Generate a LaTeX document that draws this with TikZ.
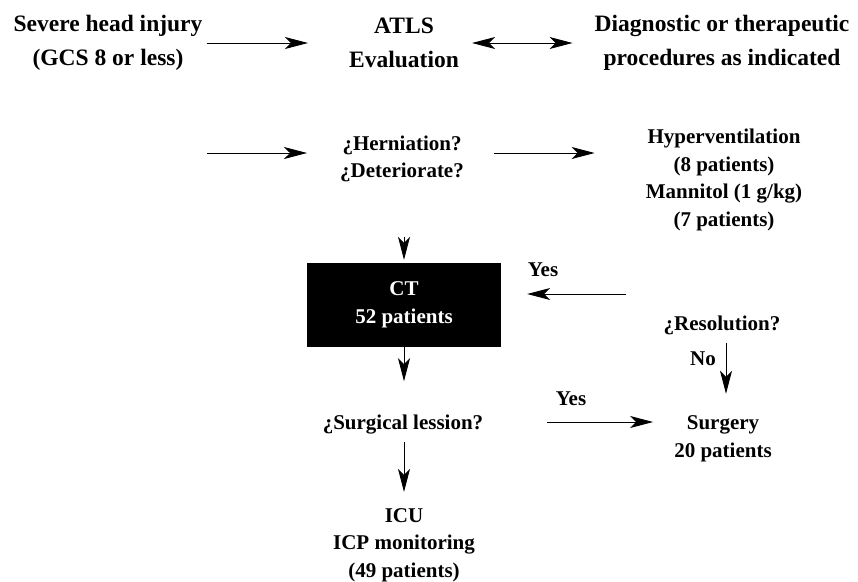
\documentclass[tikz,border=0pt]{standalone}
\usepackage{fontspec}
\setmainfont{Liberation Serif}
\usepackage{tikz}
\usetikzlibrary{arrows.meta,positioning,calc}

\begin{document}
\begin{tikzpicture}[
    x=1pt, y=-1pt,
    >={Stealth[length=23pt, width=12pt, inset=6pt]},
    big/.style={align=center, inner sep=2pt, font=\fontsize{23.5}{34}\selectfont\bfseries},
    txt/.style={align=center, inner sep=2pt, font=\fontsize{21}{27.7}\selectfont\bfseries},
    ctbox/.style={txt, fill=black, text=white, minimum width=194pt, minimum height=84pt, inner sep=0pt},
    arr/.style={->, line width=0.9pt}
]
\useasboundingbox (0,0) rectangle (858,581);

\node[big] (inj) at (108,43) {Severe head injury\\(GCS 8 or less)};
\node[big] (atls) at (404,43) {ATLS\\Evaluation};
\node[big] (diag) at (722,43) {Diagnostic or therapeutic\\procedures as indicated};

\coordinate (src) at (207,153);
\node[txt] (hern) at (402,159) {¿Herniation?\\¿Deteriorate?};
\node[txt] (hyp) at (724,180) {Hyperventilation\\(8 patients)\\Mannitol (1 g/kg)\\(7 patients)};

\node[ctbox] (ct) at (404,305) {CT\\52 patients};
\node[txt] (res) at (722,325) {¿Resolution?};
\node[txt] (les) at (403,425) {¿Surgical lession?};
\node[txt] (surg) at (723,439) {Surgery\\20 patients};
\node[txt] (icu) at (404,545) {ICU\\ICP monitoring\\(49 patients)};

\node[txt] (yes1) at (543,270) {Yes};
\node[txt] (yes2) at (571,399) {Yes};
\node[txt] (no) at (703,359) {No};

\draw[arr, shorten <=2pt, shorten >=39pt] (inj) -- (atls);
\draw[arr, <->, shorten <=11pt, shorten >=20pt] (atls) -- (diag);
\draw[arr, shorten >=31pt] (src) -- (src -| hern.west);
\draw[arr, shorten <=28pt, shorten >=49pt] (src -| hern.east) -- (src -| hyp.west);
\draw[arr, shorten <=52pt, shorten >=3pt] (ct.north |- hern.south) -- (ct.north);
\draw[arr, shorten >=32pt] (ct.south) -- (ct.south |- les.north);
\draw[arr, shorten <=5pt, shorten >=14pt] (les.south -| icu.north) -- (icu.north);
\draw[arr, shorten <=35pt, shorten >=26pt] ([yshift=11pt]ct.east -| res.west) -- ([yshift=11pt]ct.east);
\draw[arr, shorten <=6pt, shorten >=20pt] ([xshift=4pt]res.south) -- ([xshift=4pt]res.south |- surg.north);
\draw[arr, shorten <=62pt, shorten >=19pt] ([yshift=3pt]les.east) -- ([yshift=3pt]les.east -| surg.west);
\end{tikzpicture}
\end{document}
